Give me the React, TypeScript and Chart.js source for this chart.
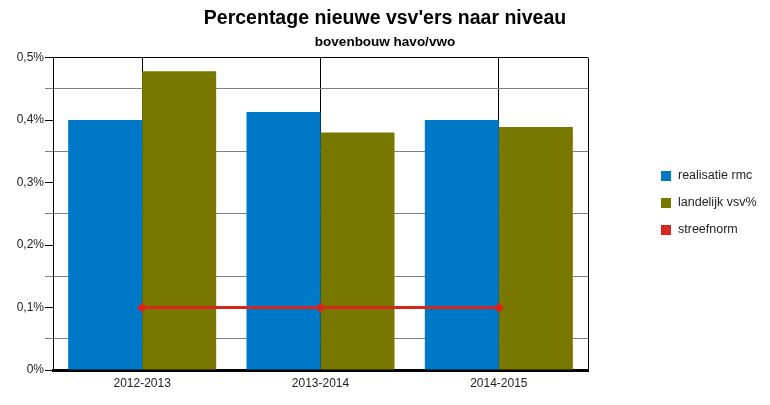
import React, { useEffect, useRef } from "react";
import { Chart, registerables } from "chart.js";

Chart.register(...registerables);

const categories = ["2012-2013", "2013-2014", "2014-2015"];
const realisatieRmc = [0.4, 0.413, 0.4];
const landelijkVsv = [0.478, 0.38, 0.389];
const streefnorm = [0.1, 0.1, 0.1];
const seriesLabels = ["realisatie rmc", "landelijk vsv%", "streefnorm"];
const seriesColors = ["#0078c8", "#787800", "#d8261c"];
const yMin = 0;
const yMax = 0.5;
const yStep = 0.05;

const FONT = "'Liberation Sans', Arial, sans-serif";

function fmt(v: number): string {
  if (Math.abs(v) < 1e-9) return "0%";
  return v.toFixed(1).replace(".", ",") + "%";
}

const framePlugin = {
  id: "frame",
  beforeDatasetsDraw(chart: any) {
    const { ctx, chartArea } = chart;
    ctx.save();
    ctx.strokeStyle = "#000";
    ctx.lineWidth = 1;
    ctx.beginPath();
    ctx.moveTo(Math.round(chartArea.right) + 0.5, chartArea.top);
    ctx.lineTo(Math.round(chartArea.right) + 0.5, chartArea.bottom);
    ctx.stroke();
    ctx.restore();
  },
};

const legendPlugin = {
  id: "customLegend",
  afterDraw(chart: any) {
    const { ctx, chartArea } = chart;
    const ds = chart.data.datasets;
    const spacing = 27;
    const x0 = chartArea.right + 73;
    const yc = chart.height / 2;
    const y0 = yc - ((ds.length - 1) * spacing) / 2;
    ctx.save();
    ctx.font = `12.5px ${FONT}`;
    ctx.textBaseline = "middle";
    ctx.textAlign = "left";
    ds.forEach((d: any, i: number) => {
      const y = y0 + i * spacing;
      ctx.fillStyle = d.legendColor;
      ctx.fillRect(x0, Math.round(y - 5), 10, 10);
      ctx.fillStyle = "#222";
      ctx.fillText(d.label, x0 + 17, y);
    });
    ctx.restore();
  },
};

export default function App() {
  const ref = useRef<HTMLCanvasElement | null>(null);
  useEffect(() => {
    document.body.style.margin = "0";
    if (!ref.current) return;
    const chart = new Chart(ref.current, {
      type: "bar",
      data: {
        labels: categories,
        datasets: [
          {
            type: "bar",
            label: seriesLabels[0],
            data: realisatieRmc,
            backgroundColor: seriesColors[0],
            borderWidth: 0,
            categoryPercentage: 0.83,
            barPercentage: 1,
            order: 1,
            legendColor: seriesColors[0],
          } as any,
          {
            type: "bar",
            label: seriesLabels[1],
            data: landelijkVsv,
            backgroundColor: seriesColors[1],
            borderWidth: 0,
            categoryPercentage: 0.83,
            barPercentage: 1,
            order: 1,
            legendColor: seriesColors[1],
          } as any,
          {
            type: "line",
            label: seriesLabels[2],
            data: streefnorm,
            borderColor: seriesColors[2],
            backgroundColor: seriesColors[2],
            borderWidth: 3,
            pointStyle: "rectRot",
            pointRadius: 3,
            order: 0,
            legendColor: seriesColors[2],
          } as any,
        ],
      },
      options: {
        animation: false,
        responsive: false,
        layout: { padding: 0 },
        plugins: {
          legend: { display: false },
          tooltip: { enabled: false },
          title: {
            display: true,
            text: "Percentage nieuwe vsv'ers naar niveau",
            color: "#000",
            font: { family: FONT, size: 19.5, weight: "bold" },
            padding: { top: 7, bottom: 2 },
          },
          subtitle: {
            display: true,
            text: "bovenbouw havo/vwo",
            color: "#000",
            font: { family: FONT, size: 13.5, weight: "bold" },
            padding: { top: 2, bottom: 7 },
          },
        },
        scales: {
          x: {
            grid: {
              offset: false,
              color: "#000",
              lineWidth: 1,
              drawTicks: false,
            },
            border: { display: true, color: "#000", width: 3 },
            ticks: {
              color: "#222",
              font: { family: FONT, size: 12 },
              padding: 6,
            },
            afterFit: (scale: any) => {
              scale.height = 35;
            },
          },
          y: {
            min: yMin,
            max: yMax,
            grid: {
              color: (c: any) => {
                const idx = Math.round(c.tick.value / yStep);
                if (idx % 2 === 1) return "#808080";
                if (idx === 10) return "#000";
                return "rgba(0,0,0,0)";
              },
              tickColor: (c: any) => {
                const idx = Math.round(c.tick.value / yStep);
                return idx % 2 === 1 ? "#808080" : "#000";
              },
              tickLength: 8,
              lineWidth: 1,
            },
            border: { display: true, color: "#000", width: 1 },
            ticks: {
              stepSize: yStep,
              color: "#222",
              font: { family: FONT, size: 12 },
              padding: 1,
              callback: (v: any) => {
                const idx = Math.round(Number(v) / yStep);
                return idx % 2 === 0 ? fmt(Number(v)) : "";
              },
            },
            afterFit: (scale: any) => {
              scale.width = 53;
            },
          },
          legendSpace: {
            type: "linear",
            position: "right",
            display: true,
            grid: { display: false, drawTicks: false },
            border: { display: false },
            ticks: { display: false },
            afterFit: (scale: any) => {
              scale.width = 182;
            },
          },
        },
      } as any,
      plugins: [framePlugin, legendPlugin],
    });
    return () => chart.destroy();
  }, []);
  return (
    <div style={{ width: 770, height: 405 }}>
      <canvas ref={ref} width={770} height={405} style={{ display: "block" }} />
    </div>
  );
}
